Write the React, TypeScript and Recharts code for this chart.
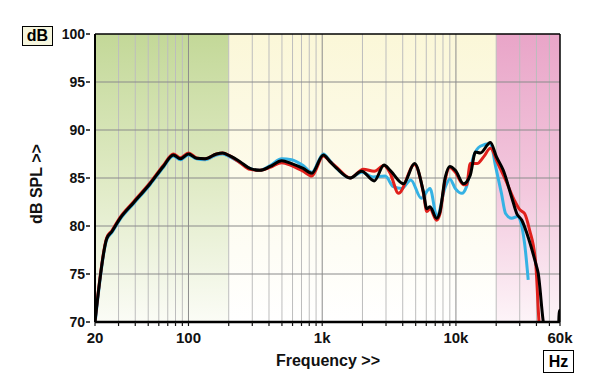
import React from 'react';
import { LineChart, Line, XAxis, YAxis, ReferenceArea, ReferenceLine } from 'recharts';

// frequency response, three measurements (Hz / dB SPL)
const BLACK_F = [20, 24.5, 26.7, 30.8, 38.7, 51.6, 64.8, 77, 87, 100, 115, 133, 162, 180, 204, 243, 288, 342, 408, 498, 590, 720, 836, 1020, 1144, 1286, 1620, 1970, 2450, 2900, 3220, 4050, 4900, 5700, 6060, 6400, 7160, 7600, 8300, 9000, 9900, 11400, 12800, 14000, 15200, 18100, 20100, 22600, 26100, 28500, 31100, 34000, 39500, 41200, 45000, 50000, 57800, 59300, 60000];
const BLACK_DB = [70.0, 78.7, 79.4, 80.8, 82.4, 84.4, 86.2, 87.4, 87.0, 87.5, 87.05, 87.0, 87.5, 87.6, 87.3, 86.7, 86.0, 85.8, 86.2, 86.8, 86.5, 86.0, 85.5, 87.4, 86.7, 86.0, 85.0, 85.7, 84.7, 86.35, 85.8, 84.4, 86.5, 83.6, 81.8, 82.0, 80.8, 81.5, 85.0, 86.2, 85.8, 84.4, 85.3, 87.7, 87.6, 88.7, 87.2, 85.8, 83.0, 81.3, 80.6, 79.2, 76.1, 75.1, 70.0, 67.0, 67.0, 71.2, 71.2];

const RED_F = [20, 24.5, 26.7, 30.8, 38.7, 51.6, 64.8, 77, 87, 100, 115, 133, 162, 180, 204, 243, 288, 342, 408, 498, 590, 720, 836, 1020, 1144, 1286, 1620, 2030, 2450, 2900, 3220, 3720, 4900, 5700, 6060, 6400, 7160, 7600, 8300, 9000, 9900, 11400, 12000, 12800, 14400, 16100, 18100, 20600, 23500, 27300, 30000, 32600, 35500, 39500, 41800, 45000];
const RED_DB = [70.1, 78.8, 79.5, 80.9, 82.5, 84.5, 86.3, 87.5, 87.1, 87.6, 87.1, 87.0, 87.5, 87.6, 87.3, 86.6, 85.9, 85.8, 86.1, 86.6, 86.3, 85.7, 85.2, 87.3, 86.7, 86.1, 85.0, 85.9, 85.7, 86.3, 85.5, 83.4, 86.4, 83.5, 81.5, 81.8, 80.6, 81.3, 84.8, 86.1, 85.6, 84.3, 84.3, 86.5, 86.5, 87.2, 88.1, 86.5, 84.8, 82.7, 81.7, 81.3, 79.6, 76.1, 70.0, 66.0];

const CYAN_F = [20, 24.5, 26.7, 30.8, 38.7, 51.6, 64.8, 77, 87, 100, 115, 133, 162, 180, 204, 243, 288, 342, 408, 498, 590, 720, 836, 1020, 1144, 1286, 1620, 1970, 2400, 2960, 3400, 3940, 4600, 5500, 6400, 7200, 8300, 9000, 9900, 11100, 12000, 13500, 15200, 18100, 19800, 21900, 23500, 26100, 28900, 32600, 34700];
const CYAN_DB = [69.8, 78.6, 79.3, 80.7, 82.3, 84.3, 86.1, 87.3, 86.9, 87.4, 87.0, 86.9, 87.4, 87.5, 87.2, 86.6, 86.0, 85.8, 86.3, 87.0, 86.9, 86.3, 85.6, 87.5, 86.8, 86.0, 85.0, 85.6, 85.1, 85.2, 84.1, 83.9, 84.8, 82.9, 83.9, 81.0, 84.0, 84.9, 83.9, 83.4, 84.1, 87.2, 88.3, 88.6, 86.2, 83.4, 81.3, 80.8, 81.0, 78.2, 74.4];

const X_TICKS = [20, 30, 40, 50, 60, 70, 80, 90, 100, 200, 300, 400, 500, 600, 700, 800, 900, 1000, 2000, 3000, 4000, 5000, 6000, 7000, 8000, 9000, 10000, 20000, 30000, 40000, 50000, 60000];
const X_LABELS: Record<number, string> = { 20: '20', 100: '100', 1000: '1k', 10000: '10k', 60000: '60k' };
const DECADES = [100, 1000, 10000];
const Y_TICKS = [70, 75, 80, 85, 90, 95, 100];

const zip = (f: number[], db: number[]) => f.map((v, i) => ({ f: v, db: db[i] }));
const black = zip(BLACK_F, BLACK_DB);
const red = zip(RED_F, RED_DB);
const cyan = zip(CYAN_F, CYAN_DB);

const FONT = 'Arial, "Liberation Sans", sans-serif';

const YTick = (props: any) => {
  const { x, y, payload } = props;
  return (
    <g>
      <text x={x - 10} y={y} dy={5} textAnchor="end" fontFamily={FONT} fontWeight="bold" fontSize={14} fill="#111">
        {payload.value}
      </text>
      <line x1={x - 9} x2={x - 5} y1={y} y2={y} stroke="#111" strokeWidth={1.5} />
    </g>
  );
};

const boxStyle: React.CSSProperties = {
  position: 'absolute',
  border: '1.5px solid #000',
  fontFamily: FONT,
  fontWeight: 'bold',
  fontSize: 16,
  display: 'flex',
  alignItems: 'center',
  justifyContent: 'center',
  boxSizing: 'border-box',
};

export default function App() {
  return (
    <div style={{ position: 'absolute', left: 0, top: 0, width: 600, height: 389, background: '#fff' }}>
      <LineChart width={600} height={389} margin={{ top: 34, right: 40, bottom: 27, left: 35 }}>
        <defs>
          <linearGradient id="gGreen" x1="0" y1="0" x2="0" y2="1">
            <stop offset="0%" stopColor="#c3d898" />
            <stop offset="50%" stopColor="#dfeac4" />
            <stop offset="100%" stopColor="#fbfcf6" />
          </linearGradient>
          <linearGradient id="gCream" x1="0" y1="0" x2="0" y2="1">
            <stop offset="0%" stopColor="#fbf7d8" />
            <stop offset="100%" stopColor="#ffffff" />
          </linearGradient>
          <linearGradient id="gPink" x1="0" y1="0" x2="0" y2="1">
            <stop offset="0%" stopColor="#e9a5c8" />
            <stop offset="55%" stopColor="#f3c9de" />
            <stop offset="100%" stopColor="#fdf4f8" />
          </linearGradient>
        </defs>
        <XAxis
          dataKey="f"
          type="number"
          scale="log"
          domain={[20, 60000]}
          allowDataOverflow
          ticks={X_TICKS}
          interval={0}
          height={40}
          tickFormatter={(v) => X_LABELS[v] ?? ''}
          tick={{ fill: '#111', fontSize: 15, fontWeight: 'bold', fontFamily: FONT }}
          tickSize={4}
          tickMargin={6}
          tickLine={{ stroke: '#111', strokeWidth: 1.2 }}
          axisLine={{ stroke: '#000', strokeWidth: 2.5 }}
          label={{
            content: () => (
              <text x={328} y={366} textAnchor="middle" fontFamily={FONT} fontWeight="bold" fontSize={16} fill="#111">
                Frequency &gt;&gt;
              </text>
            ),
          }}
        />
        <YAxis
          type="number"
          domain={[70, 100]}
          allowDataOverflow
          ticks={Y_TICKS}
          width={60}
          tickSize={0}
          tickMargin={0}
          tickLine={false}
          tick={<YTick />}
          axisLine={{ stroke: '#000', strokeWidth: 2 }}
          label={{
            content: () => (
              <text x={42} y={184} transform="rotate(-90 42 184)" textAnchor="middle" fontFamily={FONT} fontWeight="bold" fontSize={16} fill="#111">
                dB SPL &gt;&gt;
              </text>
            ),
          }}
        />

        <ReferenceArea x1={20} x2={200} y1={70} y2={100} fill="url(#gGreen)" fillOpacity={1} stroke="none" />
        <ReferenceArea x1={200} x2={20000} y1={70} y2={100} fill="url(#gCream)" fillOpacity={1} stroke="none" />
        <ReferenceArea x1={20000} x2={60000} y1={70} y2={100} fill="url(#gPink)" fillOpacity={1} stroke="none" />

        {X_TICKS.filter((f) => f !== 20 && f !== 60000).map((f) => (
          <ReferenceLine
            key={'v' + f}
            x={f}
            stroke={DECADES.includes(f) ? '#8c8c8c' : '#bdbdbd'}
            strokeWidth={1}
          />
        ))}
        {Y_TICKS.filter((v) => v !== 70 && v !== 100).map((v) => (
          <ReferenceLine key={'h' + v} y={v} stroke="#8a8a8a" strokeWidth={1} />
        ))}
        <ReferenceLine y={100} stroke="#000" strokeWidth={1.5} />
        <ReferenceLine x={60000} stroke="#000" strokeWidth={1.5} />

        <Line data={cyan} dataKey="db" type="monotone" stroke="#35b2e4" strokeWidth={3} dot={false} isAnimationActive={false} />
        <Line data={red} dataKey="db" type="monotone" stroke="#e0201c" strokeWidth={3} dot={false} isAnimationActive={false} />
        <Line data={black} dataKey="db" type="monotone" stroke="#000" strokeWidth={3} dot={false} isAnimationActive={false} />
      </LineChart>

      <div style={{ ...boxStyle, left: 22, top: 26, width: 31, height: 20, background: '#f6f6de' }}>dB</div>
      <div style={{ ...boxStyle, left: 543, top: 350, width: 31, height: 23, background: '#fff' }}>Hz</div>
    </div>
  );
}
